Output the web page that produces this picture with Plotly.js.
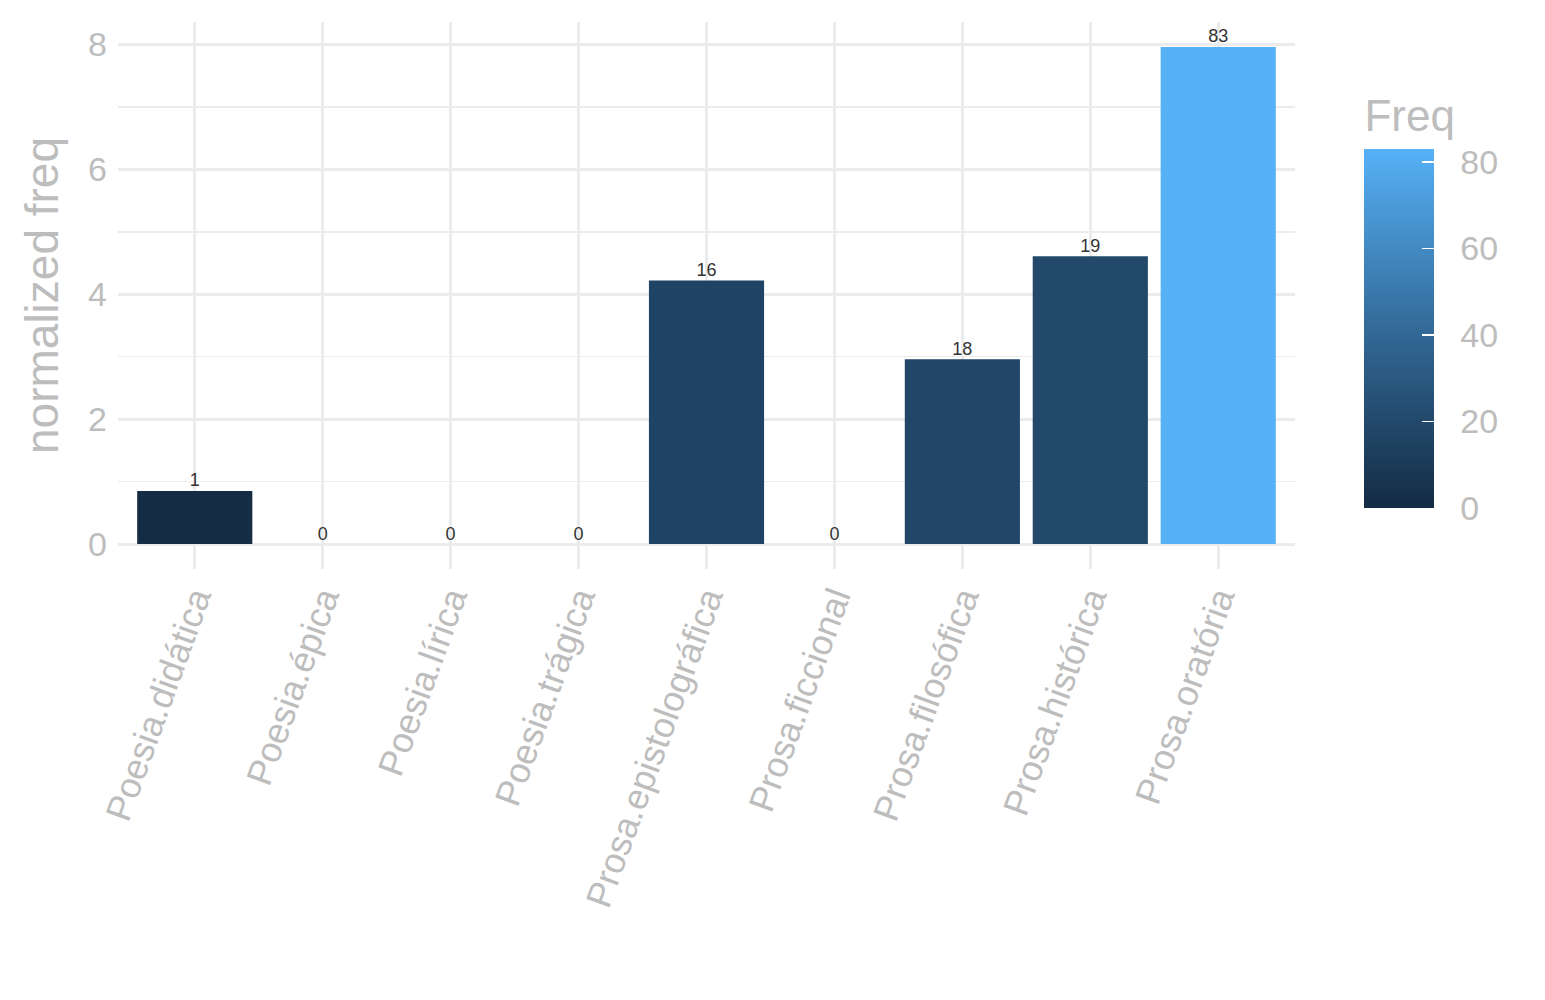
<!DOCTYPE html>
<html>
<head>
<meta charset="utf-8">
<script src="https://cdn.plot.ly/plotly-3.0.1.min.js"></script>
<style>
  html, body { margin: 0; padding: 0; background: #ffffff; }
  #chart { width: 1545px; height: 1000px; }
</style>
</head>
<body>
<div id="chart"></div>
<script>
var genres = ['Poesia.didática', 'Poesia.épica', 'Poesia.lírica', 'Poesia.trágica',
              'Prosa.epistolográfica', 'Prosa.ficcional', 'Prosa.filosófica',
              'Prosa.histórica', 'Prosa.oratória'];
var normFreq = [0.85, 0, 0, 0, 4.22, 0, 2.96, 4.61, 7.96];
var freq = [1, 0, 0, 0, 16, 0, 18, 19, 83];
var freqTicks = [0, 20, 40, 60, 80];

var grey = '#bdbdbd';
var font = 'Liberation Sans, Arial, sans-serif';
var scale = [[0, '#132B43'], [0.5, '#336A98'], [1, '#56B1F7']];

// colour bar with labels; a second, unlabelled copy draws the white inner ticks
function colorbar(labelled)
{
    return {
        title: {text: 'Freq', side: 'top', font: {size: 44, color: labelled ? grey : 'rgba(0,0,0,0)', family: font}},
        thickness: 70,
        thicknessmode: 'pixels',
        len: 413,
        lenmode: 'pixels',
        x: 1.059,
        xanchor: 'left',
        y: 0.8665,
        yanchor: 'top',
        outlinewidth: 0,
        tickvals: freqTicks,
        ticks: labelled ? 'outside' : 'inside',
        ticklen: labelled ? 20 : 12,
        tickwidth: 1.5,
        tickcolor: labelled ? 'rgba(0,0,0,0)' : '#ffffff',
        showticklabels: labelled,
        tickfont: {size: 34, color: grey, family: font},
        xpad: 0,
        ypad: 0
    };
}

var bars =
{
    type: 'bar',
    x: genres,
    y: normFreq,
    marker:
    {
        color: freq,
        cmin: 0,
        cmax: 83,
        colorscale: scale,
        showscale: true,
        colorbar: colorbar(true)
    },
    hoverinfo: 'none'
};

var tickBars =
{
    type: 'bar',
    x: genres,
    y: normFreq,
    opacity: 0,
    marker:
    {
        color: freq,
        cmin: 0,
        cmax: 83,
        colorscale: scale,
        showscale: true,
        colorbar: colorbar(false)
    },
    hoverinfo: 'none'
};

var labels =
{
    type: 'scatter',
    mode: 'text',
    x: genres,
    y: normFreq,
    text: freq.map(String),
    textposition: 'top center',
    textfont: {size: 18, color: '#333333', family: font},
    hoverinfo: 'none',
    showlegend: false
};

var layout =
{
    width: 1545,
    height: 1000,
    paper_bgcolor: '#ffffff',
    plot_bgcolor: '#ffffff',
    showlegend: false,
    hovermode: false,
    barmode: 'overlay',
    bargap: 0.1,
    margin: {l: 118, r: 250, t: 22, b: 431},
    font: {family: font, color: grey},
    xaxis:
    {
        type: 'category',
        range: [-0.6, 8.6],
        showgrid: true,
        gridcolor: '#ebebeb',
        gridwidth: 3,
        zeroline: false,
        showline: false,
        ticks: '',
        tickangle: -70,
        tickfont: {size: 36, color: grey, family: font}
    },
    yaxis:
    {
        range: [-0.4, 8.36],
        tickvals: [0, 2, 4, 6, 8],
        showgrid: true,
        gridcolor: '#ebebeb',
        gridwidth: 3,
        minor: {dtick: 1, tick0: 0, showgrid: true, gridcolor: '#ebebeb', gridwidth: 1.5},
        zeroline: false,
        showline: false,
        ticks: '',
        ticklabelstandoff: 10,
        tickfont: {size: 34, color: grey, family: font},
        automargin: true,
        title: {text: 'normalized freq', standoff: 14, font: {size: 46, color: grey, family: font}}
    }
};

Plotly.newPlot('chart', [bars, tickBars, labels], layout, {displayModeBar: false, staticPlot: true});
</script>
</body>
</html>
